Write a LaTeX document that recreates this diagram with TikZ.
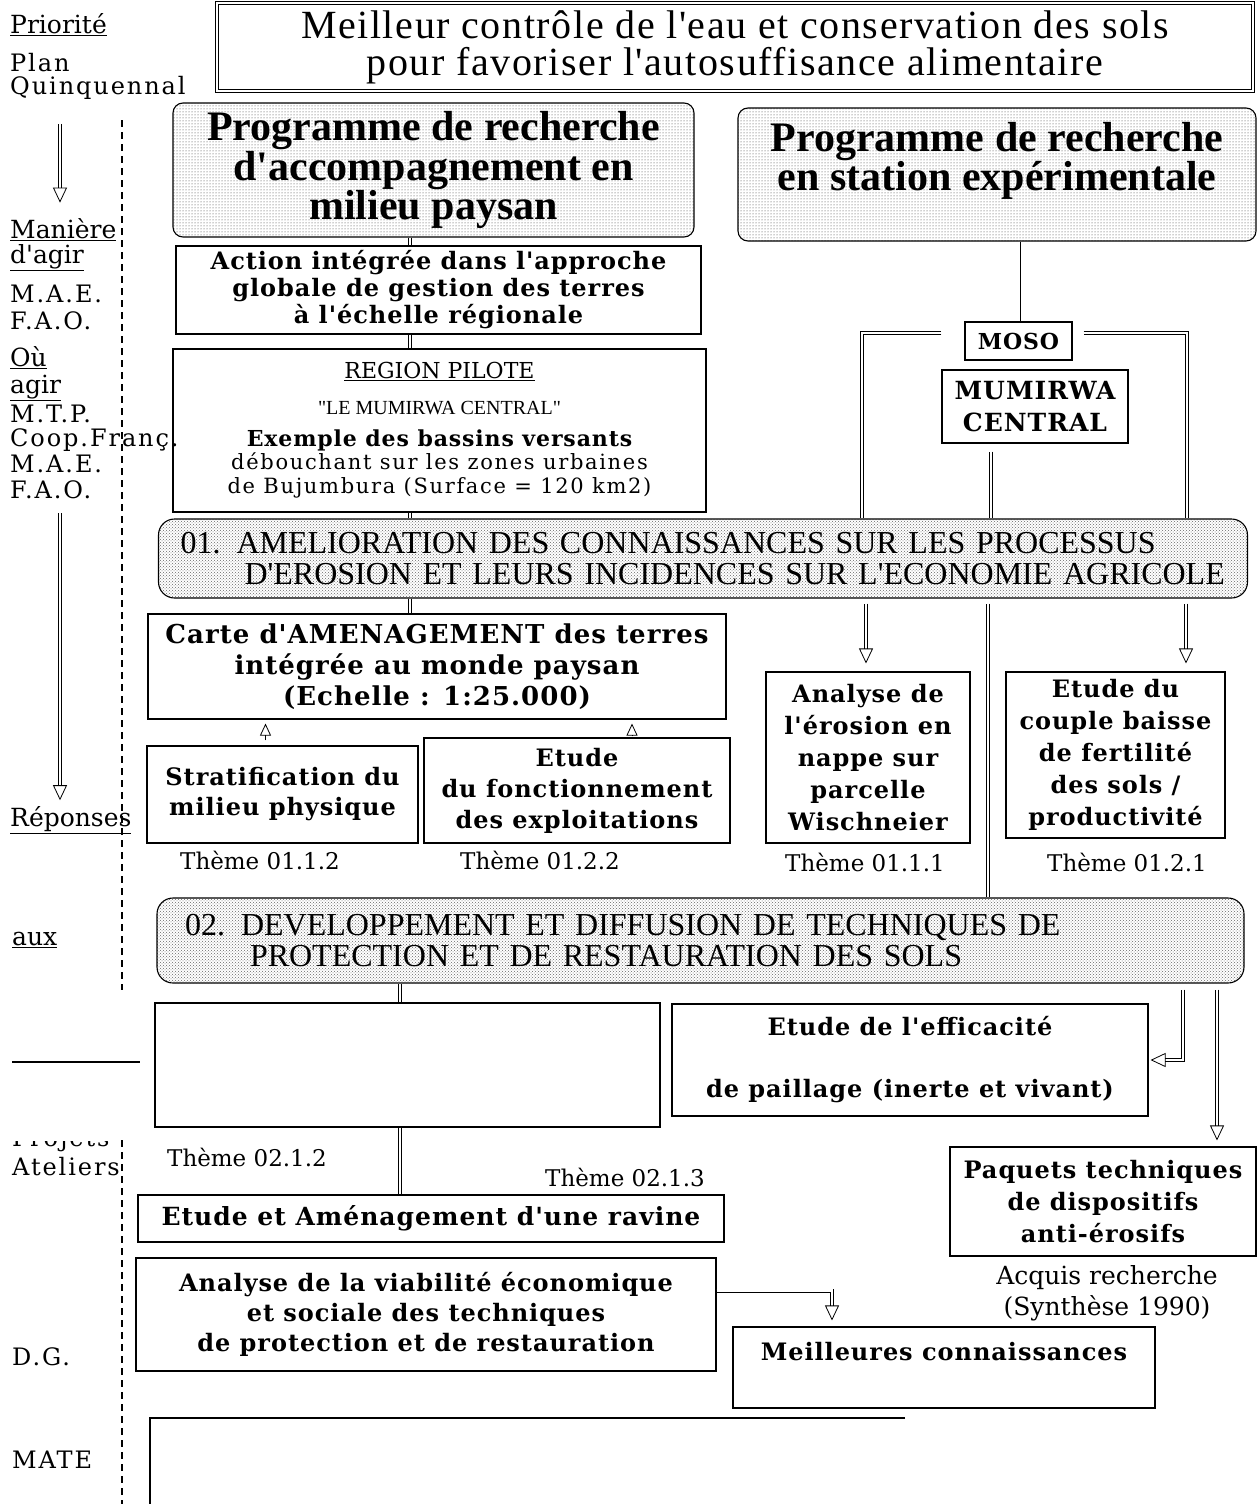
\documentclass[tikz,border=0pt]{standalone}
\usepackage{fontspec}
\usetikzlibrary{arrows.meta,patterns}
\newfontfamily\fslab[LetterSpace=4]{DejaVu Serif}
\newfontfamily\freg{DejaVu Serif}
\newfontfamily\fwide[LetterSpace=8]{DejaVu Serif}
\newfontfamily\ftimes{Liberation Serif}
\newfontfamily\ftitle[LetterSpace=4]{Liberation Serif}
\newcommand{\setfs}[2]{\fontsize{#1}{#2}\selectfont}

\begin{document}
\begin{tikzpicture}[x=1pt, y=-1pt,
    box/.style={draw, line width=1.1pt, inner sep=0pt, align=center},
    prog/.style={box, rounded corners=10pt, pattern=dots, pattern color=black!80,
                 font=\ftimes\bfseries\setfs{42}{36}},
    axe/.style={box, rounded corners=16pt, pattern=crosshatch dots, pattern color=black!60,
                align=left, font=\ftimes\setfs{32}{31}},
    slab/.style 2 args={font=\fslab\bfseries\setfs{#1}{#2}},
    link/.style={double, double distance=2.6pt, line width=0.7pt},
    flow/.style={link, -{Triangle[open, length=15pt, width=14pt, line width=0.8pt]}},
    tip/.style={line width=0.8pt, -{Triangle[open, length=12pt, width=11pt, line width=0.8pt]}},
    theme/.style={font=\freg\setfs{23}{26}},
    side/.style={anchor=west, inner sep=0pt, font=\freg\setfs{25}{28}},
    sidew/.style={anchor=west, inner sep=0pt, font=\fwide\setfs{24}{26}}]
  \useasboundingbox (0,0) rectangle (1258,1504);

  % left column: levels of decision
  \node[side]  (prio)    at (10,25)   {\underline{Priorité}};
  \node[sidew] (plan)    at (10,63)   {Plan};
  \node[sidew] (quinq)   at (10,88)   {Quinquennal};
  \node[side]  (maniere) at (10,230)  {\underline{Manière}};
  \node[side]  (dagir)   at (10,258)  {\underline{d'agir}};
  \node[sidew] (mae1)    at (10,294)  {M.A.E.};
  \node[sidew] (fao1)    at (10,321)  {F.A.O.};
  \node[side]  (ou)      at (10,358)  {\underline{Où}};
  \node[side]  (agir)    at (10,388)  {\underline{agir}};
  \node[sidew] (mtp)     at (10,414)  {M.T.P.};
  \node[sidew] (coop)    at (10,440)  {Coop.Franç.};
  \node[sidew] (mae2)    at (10,464)  {M.A.E.};
  \node[sidew] (fao2)    at (10,490)  {F.A.O.};
  \node[side]  (rep)     at (10,820)  {\underline{Réponses}};
  \node[side]  (aux)     at (12,940)  {\underline{aux}};
  \begin{scope}
    \clip (0,1141) rectangle (120,1152);
    \node[sidew] (proj)  at (12,1140) {Projets};
  \end{scope}
  \node[sidew] (atel)    at (12,1167) {Ateliers};
  \node[sidew] (dg)      at (12,1357) {D.G.};
  \node[sidew] (mate)    at (12,1460) {MATE};

  \coordinate (colS) at (60,0);
  \draw[flow, shorten <=24pt, shorten >=16pt] (quinq.south -| colS) -- (maniere.north -| colS);
  \draw[flow, shorten <=14pt, shorten >=6pt] (fao2.south -| colS) -- (rep.north -| colS);
  \draw[line width=1.2pt, dash pattern=on 7pt off 5pt] (122,120) -- (122,990);
  \draw[line width=1.2pt, dash pattern=on 7pt off 5pt] (122,1140) -- (122,1504);
  \draw[line width=2.2pt] (12,1062) -- (140,1062);

  % objective and the two programmes
  \node[box, line width=1.3pt, double, double distance=2pt, minimum width=1036pt,
        minimum height=88pt, font=\ftitle\setfs{40}{37}] (but) at (735,47)
    {Meilleur contrôle de l'eau et conservation des sols\\pour favoriser l'autosuffisance alimentaire};
  \node[prog, minimum width=521pt, minimum height=134pt] (progA) at (433.5,170)
    {Programme de recherche\\d'accompagnement en\\milieu paysan};
  \node[prog, minimum width=518pt, minimum height=133pt] (progB) at (997,174.5)
    {Programme de recherche\\en station expérimentale\\\mbox{}};

  % left branch
  \node[box, minimum width=525pt, minimum height=88pt, slab={24}{27}] (action) at (438.5,290)
    {Action intégrée dans l'approche\\globale de gestion des terres\\à l'échelle régionale};
  \node[box, minimum width=533pt, minimum height=163pt, font=\freg\setfs{20}{24}] (region) at (439.5,430.5)
    {{\freg\setfs{22}{24}\underline{REGION PILOTE}}\\[12pt]
     {\ftimes\setfs{20}{24}"LE MUMIRWA CENTRAL"}\\[8pt]
     {\fslab\bfseries\setfs{22}{24}Exemple des bassins versants}\\[-1pt]
     {\fwide\setfs{21}{24}débouchant sur les zones urbaines}\\
     {\fwide\setfs{21}{24}de Bujumbura (Surface = 120 km2)}};

  % right branch
  \node[box, minimum width=107pt, minimum height=38pt, slab={22}{24}] (moso) at (1018.5,341) {MOSO};
  \node[box, minimum width=186pt, minimum height=73pt, slab={25}{32}] (mumirwa) at (1035,406.5)
    {MUMIRWA\\CENTRAL};

  % axis 01
  \node[axe, text width=1045pt, inner xsep=22pt, minimum height=79pt] (ax1) at (703,558.5)
    {\mbox{01. AMELIORATION DES CONNAISSANCES SUR LES PROCESSUS}\\
     \mbox{\hspace*{64pt}D'EROSION ET LEURS INCIDENCES SUR L'ECONOMIE AGRICOLE}};

  \coordinate (colA) at (410,0);
  \draw[link] (progA.south -| colA) -- (action.north -| colA);
  \draw[link] (action.south -| colA) -- (region.north -| colA);
  \draw[link] (region.south -| colA) -- (ax1.north -| colA);
  \draw[link] (progB.south -| moso.north) -- (moso.north);
  \coordinate (brL) at (862,0);
  \coordinate (brR) at (1187,0);
  \draw[link] ([xshift=-23pt,yshift=8pt]moso.west) -| (ax1.north -| brL);
  \draw[link] ([xshift=11pt,yshift=8pt]moso.east) -| (ax1.north -| brR);
  \draw[link] ([xshift=-44pt,yshift=-8pt]mumirwa.south) -- ([xshift=-44pt]mumirwa.south |- ax1.north);

  % themes of axis 01
  \node[box, minimum width=578pt, minimum height=105pt, slab={26}{31}] (carte) at (437,666.5)
    {Carte d'AMENAGEMENT des terres\\intégrée au monde paysan\\(Echelle : 1:25.000)};
  \node[box, minimum width=271pt, minimum height=97pt, slab={24}{30}] (strat) at (282.5,794.5)
    {Stratification du\\milieu physique};
  \node[box, minimum width=306pt, minimum height=105pt, slab={24}{31}] (fonct) at (577,790.5)
    {Etude\\du fonctionnement\\des exploitations};
  \node[box, minimum width=204pt, minimum height=171pt, slab={24}{32}] (erosion) at (868,757.5)
    {Analyse de\\l'érosion en\\nappe sur\\parcelle\\Wischneier};
  \node[box, minimum width=219pt, minimum height=166pt, slab={24}{32}] (fertil) at (1115.5,755)
    {Etude du\\couple baisse\\de fertilité\\des sols /\\productivité};
  \node[theme] (t112) at (260,860)  {Thème 01.1.2};
  \node[theme] (t122) at (540,860)  {Thème 01.2.2};
  \node[theme] (t111) at (865,862)  {Thème 01.1.1};
  \node[theme] (t121) at (1127,862) {Thème 01.2.1};

  \draw[link] (ax1.south -| colA) -- (carte.north -| colA);
  \draw[tip, shorten <=5pt, shorten >=4pt] ([xshift=-17pt]strat.north) -- ([xshift=-17pt]strat.north |- carte.south);
  \draw[tip, shorten <=1pt, shorten >=4pt] ([xshift=55pt]fonct.north) -- ([xshift=55pt]fonct.north |- carte.south);
  \coordinate (arL) at (866,0);
  \coordinate (arR) at (1186,0);
  \coordinate (colL) at (988,0);
  \draw[flow, shorten <=5pt, shorten >=8pt] (ax1.south -| arL) -- (erosion.north -| arL);
  \draw[flow, shorten <=5pt, shorten >=8pt] (ax1.south -| arR) -- (fertil.north -| arR);

  % axis 02
  \node[axe, text width=1031pt, inner xsep=28pt, minimum height=85pt] (ax2) at (700.5,940.5)
    {\mbox{02. DEVELOPPEMENT ET DIFFUSION DE TECHNIQUES DE}\\
     \mbox{\hspace*{65pt}PROTECTION ET DE RESTAURATION DES SOLS}};
  \draw[link, shorten <=5pt] (ax1.south -| colL) -- (ax2.north -| colL);

  % themes of axis 02
  \node[box, minimum width=505pt, minimum height=124pt] (vide) at (407.5,1065) {};
  \node[box, minimum width=476pt, minimum height=112pt, slab={24}{32}] (effic) at (910,1060)
    {Etude de l'efficacité\\[30pt]de paillage (inerte et vivant)};
  \node[box, minimum width=306pt, minimum height=109pt, slab={24}{32}] (paquets) at (1103,1201.5)
    {Paquets techniques\\de dispositifs\\anti-érosifs};
  \node[theme, align=center, font=\freg\setfs{25}{31}] (acquis) at (1107,1293)
    {Acquis recherche\\(Synthèse 1990)};
  \node[box, minimum width=586pt, minimum height=47pt, slab={25}{30}] (ravine) at (431,1218.5)
    {Etude et Aménagement d'une ravine};
  \node[box, minimum width=580pt, minimum height=113pt, slab={24}{30}] (viab) at (426,1314.5)
    {Analyse de la viabilité économique\\et sociale des techniques\\de protection et de restauration};
  \node[box, minimum width=422pt, minimum height=81pt, slab={24}{32}] (meil) at (944,1367.5)
    {Meilleures connaissances\\\mbox{}};
  \node[theme] (t212) at (247,1157) {Thème 02.1.2};
  \node[theme] (t213) at (625,1177) {Thème 02.1.3};

  \coordinate (colB) at (400,0);
  \coordinate (arE) at (1183,0);
  \coordinate (arP) at (1217,0);
  \coordinate (arM) at (832,0);
  \draw[link] (ax2.south -| colB) -- (vide.north -| colB);
  \draw[link] (vide.south -| colB) -- (ravine.north -| colB);
  \draw[flow, shorten <=6pt, shorten >=2pt] (ax2.south -| arE) |- (effic.east);
  \draw[flow, shorten <=6pt, shorten >=6pt] (ax2.south -| arP) -- (paquets.north -| arP);
  \draw[flow, shorten >=6pt] ([yshift=24pt]viab.east) -| (meil.north -| arM);

  % open frame at the bottom
  \draw[line width=1.1pt] (905,1418) -- (150,1418) -- (150,1504);
\end{tikzpicture}
\end{document}
